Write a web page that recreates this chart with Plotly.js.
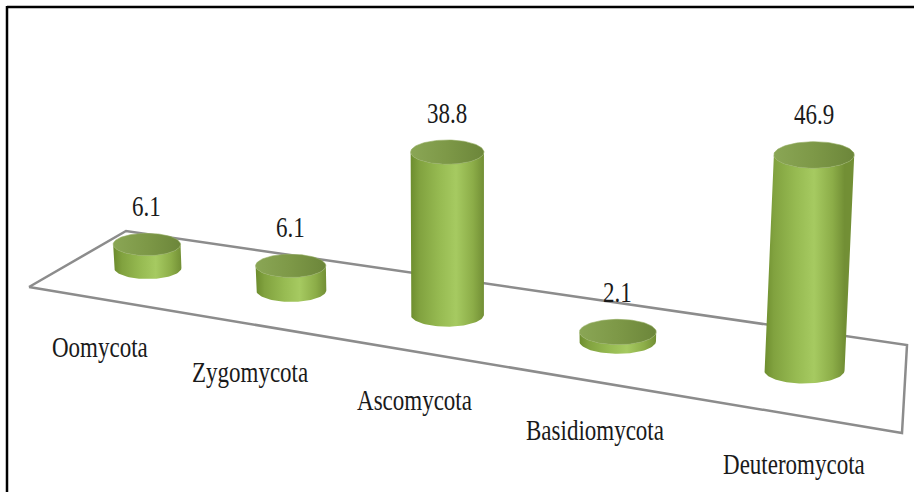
<!DOCTYPE html>
<html>
<head>
<meta charset="utf-8">
<script src="https://cdn.plot.ly/plotly-3.0.1.min.js"></script>
<style>
  html, body { margin: 0; padding: 0; background: #ffffff; }
  #chart { width: 914px; height: 492px; }
  /* tall, narrow serif lettering */
  #chart .annotation-text {
    transform-box: fill-box;
    transform-origin: center;
    transform: scaleY(1.3);
  }
</style>
</head>
<body>
<div id="chart"></div>
<script>
// Share of isolates per fungal group (%)
const phyla = ['Oomycota', 'Zygomycota', 'Ascomycota', 'Basidiomycota', 'Deuteromycota'];
const percent = [6.1, 6.1, 38.8, 2.1, 46.9];

// ---- pseudo-3D view settings ----
const W = 914, H = 492;
// floor outline on screen: front-left, front-right, back-right, back-left
const floorQuad = [[29, 287], [902, 433], [907, 345], [126, 231]];
const radius = 35;        // cylinder radius at unit scale
const ellipseRatio = 0.33; // vertical squash of the circular faces
const unitHeight = 4.0;    // pixels per percent at unit scale
const nadirDist = 8000;    // vertical lines converge far below the view
const viewCx = 446;

// square -> quad perspective mapping of the floor plane
function makeHomography(q) {
  const [p0, p1, p2, p3] = q;
  const sx = p0[0] - p1[0] + p2[0] - p3[0];
  const sy = p0[1] - p1[1] + p2[1] - p3[1];
  const dx1 = p1[0] - p2[0], dx2 = p3[0] - p2[0];
  const dy1 = p1[1] - p2[1], dy2 = p3[1] - p2[1];
  const den = dx1 * dy2 - dy1 * dx2;
  const g = (sx * dy2 - sy * dx2) / den;
  const h = (dx1 * sy - dy1 * sx) / den;
  const a = p1[0] - p0[0] + g * p1[0], b = p3[0] - p0[0] + h * p3[0], c = p0[0];
  const d = p1[1] - p0[1] + g * p1[1], e = p3[1] - p0[1] + h * p3[1], f = p0[1];
  return function (u, v) {
    const w = g * u + h * v + 1;
    return [(a * u + b * v + c) / w, (d * u + e * v + f) / w, w];
  };
}
const project = makeHomography(floorQuad);

function ellipseArc(cx, cy, rx, ry, t0, t1, n) {
  const xs = [], ys = [];
  for (let k = 0; k <= n; k++) {
    const t = t0 + (t1 - t0) * k / n;
    xs.push(cx + rx * Math.cos(t));
    ys.push(cy + ry * Math.sin(t));
  }
  return [xs, ys];
}

const bodyScale = [
  [0, '#6d8d2e'], [0.12, '#81a23f'], [0.4, '#97bb52'], [0.62, '#a6ca61'],
  [0.85, '#8cad48'], [1, '#728f35']
];
const topScale = [[0, '#8aa655'], [0.5, '#7d9847'], [1, '#6c863a']];

const traces = [];
const annotations = [];

// floor outline
const fx = floorQuad.map(p => p[0]).concat([floorQuad[0][0]]);
const fy = floorQuad.map(p => p[1]).concat([floorQuad[0][1]]);
traces.push({
  type: 'scatter', mode: 'lines', x: fx, y: fy,
  line: { color: '#8c8c8c', width: 2.5 }, hoverinfo: 'skip'
});

const n = phyla.length;
phyla.forEach((name, i) => {
  const u = (i + 0.5) / n;
  const [xb, yb, w] = project(u, 0.5);
  const s = 1 / w;
  const rx = radius * s, ry = rx * ellipseRatio;
  const hgt = percent[i] * unitHeight * s;
  const xt = xb + (xb - viewCx) * hgt / nadirDist;
  const yt = yb - hgt;

  // side of the cylinder
  const bx = [xt - rx], by = [yt];
  const low = ellipseArc(xb, yb, rx, ry, Math.PI, 0, 48);
  bx.push(...low[0]); by.push(...low[1]);
  const topFront = ellipseArc(xt, yt, rx, ry, 0, Math.PI, 48);
  bx.push(...topFront[0]); by.push(...topFront[1]);
  traces.push({
    type: 'scatter', mode: 'lines', x: bx, y: by, fill: 'toself',
    line: { width: 0, color: 'rgba(0,0,0,0)' },
    fillgradient: { type: 'horizontal', colorscale: bodyScale, start: xb - rx, stop: xb + rx },
    hoverinfo: 'skip'
  });

  // top face
  const cap = ellipseArc(xt, yt, rx, ry, 0, 2 * Math.PI, 96);
  traces.push({
    type: 'scatter', mode: 'lines', x: cap[0], y: cap[1], fill: 'toself',
    line: { width: 0.6, color: '#94ad62' },
    fillgradient: { type: 'horizontal', colorscale: topScale, start: xt - rx, stop: xt + rx },
    hoverinfo: 'skip'
  });

  // value label above the cylinder
  annotations.push({
    x: xt, y: yt - ry - 27, xref: 'x', yref: 'y',
    text: percent[i].toFixed(1), showarrow: false,
    xanchor: 'center', yanchor: 'middle',
    font: { family: 'Liberation Serif, Times New Roman, serif', size: 23, color: '#1a1a1a' }
  });

  // category label in front of the floor
  const [xf, yf] = project(u, 0);
  annotations.push({
    x: xf, y: yf + 49, xref: 'x', yref: 'y',
    text: name, showarrow: false,
    xanchor: 'center', yanchor: 'middle',
    font: { family: 'Liberation Serif, Times New Roman, serif', size: 23, color: '#1a1a1a' }
  });
});

const layout = {
  width: W, height: H,
  margin: { l: 0, r: 0, t: 0, b: 0 },
  paper_bgcolor: '#ffffff', plot_bgcolor: '#ffffff',
  showlegend: false,
  xaxis: { range: [0, W], visible: false, fixedrange: true },
  yaxis: { range: [H, 0], visible: false, fixedrange: true },
  annotations: annotations,
  shapes: [
    { type: 'line', xref: 'x', yref: 'y', x0: 7, y0: 7, x1: W, y1: 7, line: { color: '#000000', width: 2.5 } },
    { type: 'line', xref: 'x', yref: 'y', x0: 7, y0: 6, x1: 7, y1: H, line: { color: '#000000', width: 2.5 } }
  ]
};

Plotly.newPlot('chart', traces, layout, { staticPlot: true, displayModeBar: false });
</script>
</body>
</html>
